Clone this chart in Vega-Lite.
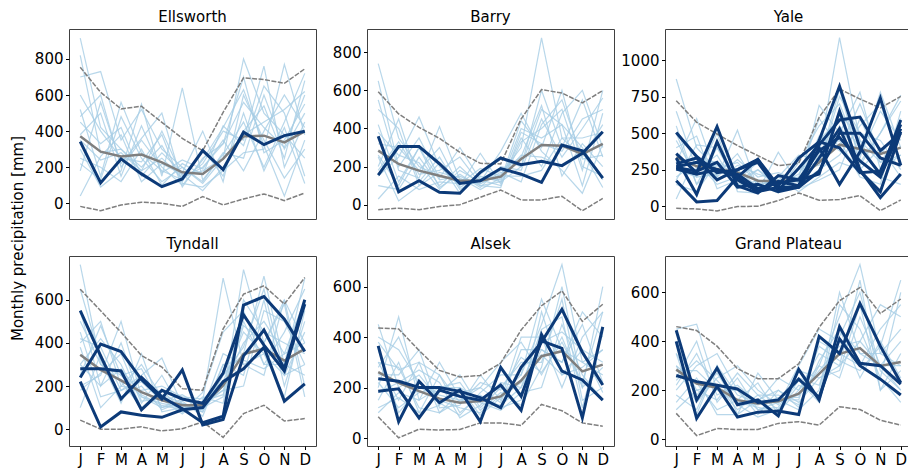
{
"$schema":"https://vega.github.io/schema/vega-lite/v6.json",
"padding":{"left":10,"top":9,"right":0,"bottom":0},
"title":{"text":"Monthly precipitation [mm]","orient":"left","anchor":"middle","offset":8,"fontSize":15,"fontWeight":"normal","color":"#000","font":"DejaVu Sans"},
"config":{"font":"DejaVu Sans","view":{"stroke":"#404040","strokeWidth":1},
"title":{"fontSize":15,"fontWeight":"normal","color":"#000","font":"DejaVu Sans"},
"axis":{"domain":false,"grid":false,"tickColor":"#000","tickSize":3.5,"labelFontSize":15,"labelColor":"#000","labelFont":"DejaVu Sans","labelPadding":2.5}},
"datasets":{"series":[
{"s":"Ee1","p":"Ellsworth","k":"ens"},{"s":"Ee2","p":"Ellsworth","k":"ens"},{"s":"Ee3","p":"Ellsworth","k":"ens"},{"s":"Ee4","p":"Ellsworth","k":"ens"},{"s":"Ee5","p":"Ellsworth","k":"ens"},{"s":"Ee6","p":"Ellsworth","k":"ens"},{"s":"Ee7","p":"Ellsworth","k":"ens"},{"s":"Ee8","p":"Ellsworth","k":"ens"},{"s":"Ee9","p":"Ellsworth","k":"ens"},{"s":"Ee10","p":"Ellsworth","k":"ens"},{"s":"Ee11","p":"Ellsworth","k":"ens"},{"s":"Ee12","p":"Ellsworth","k":"ens"},{"s":"Ee13","p":"Ellsworth","k":"ens"},{"s":"Ee14","p":"Ellsworth","k":"ens"},{"s":"Eu","p":"Ellsworth","k":"bnd"},{"s":"El","p":"Ellsworth","k":"bnd"},{"s":"Em","p":"Ellsworth","k":"mean"},{"s":"Eo1","p":"Ellsworth","k":"obs"},
{"s":"Be1","p":"Barry","k":"ens"},{"s":"Be2","p":"Barry","k":"ens"},{"s":"Be3","p":"Barry","k":"ens"},{"s":"Be4","p":"Barry","k":"ens"},{"s":"Be5","p":"Barry","k":"ens"},{"s":"Be6","p":"Barry","k":"ens"},{"s":"Be7","p":"Barry","k":"ens"},{"s":"Be8","p":"Barry","k":"ens"},{"s":"Be9","p":"Barry","k":"ens"},{"s":"Be10","p":"Barry","k":"ens"},{"s":"Be11","p":"Barry","k":"ens"},{"s":"Be12","p":"Barry","k":"ens"},{"s":"Be13","p":"Barry","k":"ens"},{"s":"Be14","p":"Barry","k":"ens"},{"s":"Bu","p":"Barry","k":"bnd"},{"s":"Bl","p":"Barry","k":"bnd"},{"s":"Bm","p":"Barry","k":"mean"},{"s":"Bo1","p":"Barry","k":"obs"},{"s":"Bo2","p":"Barry","k":"obs"},
{"s":"Ye1","p":"Yale","k":"ens"},{"s":"Ye2","p":"Yale","k":"ens"},{"s":"Ye3","p":"Yale","k":"ens"},{"s":"Ye4","p":"Yale","k":"ens"},{"s":"Ye5","p":"Yale","k":"ens"},{"s":"Ye6","p":"Yale","k":"ens"},{"s":"Ye7","p":"Yale","k":"ens"},{"s":"Ye8","p":"Yale","k":"ens"},{"s":"Ye9","p":"Yale","k":"ens"},{"s":"Ye10","p":"Yale","k":"ens"},{"s":"Ye11","p":"Yale","k":"ens"},{"s":"Ye12","p":"Yale","k":"ens"},{"s":"Ye13","p":"Yale","k":"ens"},{"s":"Ye14","p":"Yale","k":"ens"},{"s":"Yu","p":"Yale","k":"bnd"},{"s":"Yl","p":"Yale","k":"bnd"},{"s":"Ym","p":"Yale","k":"mean"},{"s":"Yo1","p":"Yale","k":"obs"},{"s":"Yo2","p":"Yale","k":"obs"},{"s":"Yo3","p":"Yale","k":"obs"},{"s":"Yo4","p":"Yale","k":"obs"},{"s":"Yo5","p":"Yale","k":"obs"},{"s":"Yo6","p":"Yale","k":"obs"},{"s":"Yo7","p":"Yale","k":"obs"},{"s":"Yo8","p":"Yale","k":"obs"},
{"s":"Te1","p":"Tyndall","k":"ens"},{"s":"Te2","p":"Tyndall","k":"ens"},{"s":"Te3","p":"Tyndall","k":"ens"},{"s":"Te4","p":"Tyndall","k":"ens"},{"s":"Te5","p":"Tyndall","k":"ens"},{"s":"Te6","p":"Tyndall","k":"ens"},{"s":"Te7","p":"Tyndall","k":"ens"},{"s":"Te8","p":"Tyndall","k":"ens"},{"s":"Te9","p":"Tyndall","k":"ens"},{"s":"Te10","p":"Tyndall","k":"ens"},{"s":"Te11","p":"Tyndall","k":"ens"},{"s":"Te12","p":"Tyndall","k":"ens"},{"s":"Te13","p":"Tyndall","k":"ens"},{"s":"Te14","p":"Tyndall","k":"ens"},{"s":"Tu","p":"Tyndall","k":"bnd"},{"s":"Tl","p":"Tyndall","k":"bnd"},{"s":"Tm","p":"Tyndall","k":"mean"},{"s":"To1","p":"Tyndall","k":"obs"},{"s":"To2","p":"Tyndall","k":"obs"},{"s":"To3","p":"Tyndall","k":"obs"},{"s":"To4","p":"Tyndall","k":"obs"},
{"s":"Ae1","p":"Alsek","k":"ens"},{"s":"Ae2","p":"Alsek","k":"ens"},{"s":"Ae3","p":"Alsek","k":"ens"},{"s":"Ae4","p":"Alsek","k":"ens"},{"s":"Ae5","p":"Alsek","k":"ens"},{"s":"Ae6","p":"Alsek","k":"ens"},{"s":"Ae7","p":"Alsek","k":"ens"},{"s":"Ae8","p":"Alsek","k":"ens"},{"s":"Ae9","p":"Alsek","k":"ens"},{"s":"Ae10","p":"Alsek","k":"ens"},{"s":"Ae11","p":"Alsek","k":"ens"},{"s":"Ae12","p":"Alsek","k":"ens"},{"s":"Ae13","p":"Alsek","k":"ens"},{"s":"Ae14","p":"Alsek","k":"ens"},{"s":"Au","p":"Alsek","k":"bnd"},{"s":"Al","p":"Alsek","k":"bnd"},{"s":"Am","p":"Alsek","k":"mean"},{"s":"Ao1","p":"Alsek","k":"obs"},{"s":"Ao2","p":"Alsek","k":"obs"},{"s":"Ao3","p":"Alsek","k":"obs"},
{"s":"Ge1","p":"Grand Plateau","k":"ens"},{"s":"Ge2","p":"Grand Plateau","k":"ens"},{"s":"Ge3","p":"Grand Plateau","k":"ens"},{"s":"Ge4","p":"Grand Plateau","k":"ens"},{"s":"Ge5","p":"Grand Plateau","k":"ens"},{"s":"Ge6","p":"Grand Plateau","k":"ens"},{"s":"Ge7","p":"Grand Plateau","k":"ens"},{"s":"Ge8","p":"Grand Plateau","k":"ens"},{"s":"Ge9","p":"Grand Plateau","k":"ens"},{"s":"Ge10","p":"Grand Plateau","k":"ens"},{"s":"Ge11","p":"Grand Plateau","k":"ens"},{"s":"Ge12","p":"Grand Plateau","k":"ens"},{"s":"Ge13","p":"Grand Plateau","k":"ens"},{"s":"Ge14","p":"Grand Plateau","k":"ens"},{"s":"Gu","p":"Grand Plateau","k":"bnd"},{"s":"Gl","p":"Grand Plateau","k":"bnd"},{"s":"Gm","p":"Grand Plateau","k":"mean"},{"s":"Go1","p":"Grand Plateau","k":"obs"},{"s":"Go2","p":"Grand Plateau","k":"obs"},{"s":"Go3","p":"Grand Plateau","k":"obs"}
]},
"data":{"values":[
{"s":"Ee1","m":1,"v":916},{"s":"Ee1","m":2,"v":420},{"s":"Ee1","m":3,"v":300},{"s":"Ee1","m":4,"v":180},{"s":"Ee1","m":5,"v":250},{"s":"Ee1","m":6,"v":140},{"s":"Ee1","m":7,"v":200},{"s":"Ee1","m":8,"v":330},{"s":"Ee1","m":9,"v":560},{"s":"Ee1","m":10,"v":420},{"s":"Ee1","m":11,"v":310},{"s":"Ee1","m":12,"v":600},
{"s":"Ee2","m":1,"v":700},{"s":"Ee2","m":2,"v":730},{"s":"Ee2","m":3,"v":350},{"s":"Ee2","m":4,"v":520},{"s":"Ee2","m":5,"v":300},{"s":"Ee2","m":6,"v":200},{"s":"Ee2","m":7,"v":110},{"s":"Ee2","m":8,"v":250},{"s":"Ee2","m":9,"v":800},{"s":"Ee2","m":10,"v":500},{"s":"Ee2","m":11,"v":380},{"s":"Ee2","m":12,"v":250},
{"s":"Ee3","m":1,"v":520},{"s":"Ee3","m":2,"v":150},{"s":"Ee3","m":3,"v":560},{"s":"Ee3","m":4,"v":280},{"s":"Ee3","m":5,"v":180},{"s":"Ee3","m":6,"v":130},{"s":"Ee3","m":7,"v":220},{"s":"Ee3","m":8,"v":400},{"s":"Ee3","m":9,"v":350},{"s":"Ee3","m":10,"v":760},{"s":"Ee3","m":11,"v":200},{"s":"Ee3","m":12,"v":450},
{"s":"Ee4","m":1,"v":180},{"s":"Ee4","m":2,"v":560},{"s":"Ee4","m":3,"v":220},{"s":"Ee4","m":4,"v":360},{"s":"Ee4","m":5,"v":500},{"s":"Ee4","m":6,"v":110},{"s":"Ee4","m":7,"v":90},{"s":"Ee4","m":8,"v":180},{"s":"Ee4","m":9,"v":280},{"s":"Ee4","m":10,"v":300},{"s":"Ee4","m":11,"v":770},{"s":"Ee4","m":12,"v":380},
{"s":"Ee5","m":1,"v":300},{"s":"Ee5","m":2,"v":90},{"s":"Ee5","m":3,"v":180},{"s":"Ee5","m":4,"v":550},{"s":"Ee5","m":5,"v":150},{"s":"Ee5","m":6,"v":640},{"s":"Ee5","m":7,"v":130},{"s":"Ee5","m":8,"v":270},{"s":"Ee5","m":9,"v":450},{"s":"Ee5","m":10,"v":200},{"s":"Ee5","m":11,"v":450},{"s":"Ee5","m":12,"v":720},
{"s":"Ee6","m":1,"v":450},{"s":"Ee6","m":2,"v":330},{"s":"Ee6","m":3,"v":420},{"s":"Ee6","m":4,"v":150},{"s":"Ee6","m":5,"v":280},{"s":"Ee6","m":6,"v":170},{"s":"Ee6","m":7,"v":400},{"s":"Ee6","m":8,"v":120},{"s":"Ee6","m":9,"v":600},{"s":"Ee6","m":10,"v":350},{"s":"Ee6","m":11,"v":140},{"s":"Ee6","m":12,"v":300},
{"s":"Ee7","m":1,"v":250},{"s":"Ee7","m":2,"v":200},{"s":"Ee7","m":3,"v":120},{"s":"Ee7","m":4,"v":300},{"s":"Ee7","m":5,"v":100},{"s":"Ee7","m":6,"v":220},{"s":"Ee7","m":7,"v":160},{"s":"Ee7","m":8,"v":430},{"s":"Ee7","m":9,"v":320},{"s":"Ee7","m":10,"v":650},{"s":"Ee7","m":11,"v":500},{"s":"Ee7","m":12,"v":150},
{"s":"Ee8","m":1,"v":600},{"s":"Ee8","m":2,"v":400},{"s":"Ee8","m":3,"v":250},{"s":"Ee8","m":4,"v":230},{"s":"Ee8","m":5,"v":380},{"s":"Ee8","m":6,"v":90},{"s":"Ee8","m":7,"v":250},{"s":"Ee8","m":8,"v":330},{"s":"Ee8","m":9,"v":700},{"s":"Ee8","m":10,"v":280},{"s":"Ee8","m":11,"v":350},{"s":"Ee8","m":12,"v":550},
{"s":"Ee9","m":1,"v":40},{"s":"Ee9","m":2,"v":260},{"s":"Ee9","m":3,"v":380},{"s":"Ee9","m":4,"v":120},{"s":"Ee9","m":5,"v":220},{"s":"Ee9","m":6,"v":160},{"s":"Ee9","m":7,"v":70},{"s":"Ee9","m":8,"v":200},{"s":"Ee9","m":9,"v":400},{"s":"Ee9","m":10,"v":540},{"s":"Ee9","m":11,"v":250},{"s":"Ee9","m":12,"v":680},
{"s":"Ee10","m":1,"v":380},{"s":"Ee10","m":2,"v":500},{"s":"Ee10","m":3,"v":150},{"s":"Ee10","m":4,"v":430},{"s":"Ee10","m":5,"v":170},{"s":"Ee10","m":6,"v":240},{"s":"Ee10","m":7,"v":190},{"s":"Ee10","m":8,"v":350},{"s":"Ee10","m":9,"v":180},{"s":"Ee10","m":10,"v":400},{"s":"Ee10","m":11,"v":600},{"s":"Ee10","m":12,"v":420},
{"s":"Ee11","m":1,"v":820},{"s":"Ee11","m":2,"v":280},{"s":"Ee11","m":3,"v":300},{"s":"Ee11","m":4,"v":200},{"s":"Ee11","m":5,"v":320},{"s":"Ee11","m":6,"v":120},{"s":"Ee11","m":7,"v":300},{"s":"Ee11","m":8,"v":150},{"s":"Ee11","m":9,"v":500},{"s":"Ee11","m":10,"v":180},{"s":"Ee11","m":11,"v":420},{"s":"Ee11","m":12,"v":110},
{"s":"Ee12","m":1,"v":220},{"s":"Ee12","m":2,"v":130},{"s":"Ee12","m":3,"v":480},{"s":"Ee12","m":4,"v":250},{"s":"Ee12","m":5,"v":120},{"s":"Ee12","m":6,"v":200},{"s":"Ee12","m":7,"v":120},{"s":"Ee12","m":8,"v":280},{"s":"Ee12","m":9,"v":250},{"s":"Ee12","m":10,"v":600},{"s":"Ee12","m":11,"v":300},{"s":"Ee12","m":12,"v":500},
{"s":"Ee13","m":1,"v":480},{"s":"Ee13","m":2,"v":600},{"s":"Ee13","m":3,"v":200},{"s":"Ee13","m":4,"v":350},{"s":"Ee13","m":5,"v":200},{"s":"Ee13","m":6,"v":100},{"s":"Ee13","m":7,"v":240},{"s":"Ee13","m":8,"v":420},{"s":"Ee13","m":9,"v":630},{"s":"Ee13","m":10,"v":320},{"s":"Ee13","m":11,"v":40},{"s":"Ee13","m":12,"v":350},
{"s":"Ee14","m":1,"v":350},{"s":"Ee14","m":2,"v":240},{"s":"Ee14","m":3,"v":280},{"s":"Ee14","m":4,"v":180},{"s":"Ee14","m":5,"v":400},{"s":"Ee14","m":6,"v":150},{"s":"Ee14","m":7,"v":180},{"s":"Ee14","m":8,"v":250},{"s":"Ee14","m":9,"v":380},{"s":"Ee14","m":10,"v":450},{"s":"Ee14","m":11,"v":520},{"s":"Ee14","m":12,"v":620},
{"s":"Eu","m":1,"v":754},{"s":"Eu","m":2,"v":615},{"s":"Eu","m":3,"v":523},{"s":"Eu","m":4,"v":538},{"s":"Eu","m":5,"v":449},{"s":"Eu","m":6,"v":360},{"s":"Eu","m":7,"v":292},{"s":"Eu","m":8,"v":504},{"s":"Eu","m":9,"v":695},{"s":"Eu","m":10,"v":686},{"s":"Eu","m":11,"v":665},{"s":"Eu","m":12,"v":745},
{"s":"El","m":1,"v":-17},{"s":"El","m":2,"v":-41},{"s":"El","m":3,"v":-9},{"s":"El","m":4,"v":6},{"s":"El","m":5,"v":0},{"s":"El","m":6,"v":-17},{"s":"El","m":7,"v":37},{"s":"El","m":8,"v":-9},{"s":"El","m":9,"v":24},{"s":"El","m":10,"v":52},{"s":"El","m":11,"v":15},{"s":"El","m":12,"v":57},
{"s":"Em","m":1,"v":371},{"s":"Em","m":2,"v":286},{"s":"Em","m":3,"v":259},{"s":"Em","m":4,"v":270},{"s":"Em","m":5,"v":227},{"s":"Em","m":6,"v":172},{"s":"Em","m":7,"v":163},{"s":"Em","m":8,"v":246},{"s":"Em","m":9,"v":371},{"s":"Em","m":10,"v":375},{"s":"Em","m":11,"v":338},{"s":"Em","m":12,"v":399},
{"s":"Eo1","m":1,"v":342},{"s":"Eo1","m":2,"v":113},{"s":"Eo1","m":3,"v":246},{"s":"Eo1","m":4,"v":163},{"s":"Eo1","m":5,"v":92},{"s":"Eo1","m":6,"v":135},{"s":"Eo1","m":7,"v":292},{"s":"Eo1","m":8,"v":187},{"s":"Eo1","m":9,"v":394},{"s":"Eo1","m":10,"v":325},{"s":"Eo1","m":11,"v":375},{"s":"Eo1","m":12,"v":399},
{"s":"Be1","m":1,"v":740},{"s":"Be1","m":2,"v":350},{"s":"Be1","m":3,"v":200},{"s":"Be1","m":4,"v":150},{"s":"Be1","m":5,"v":120},{"s":"Be1","m":6,"v":110},{"s":"Be1","m":7,"v":160},{"s":"Be1","m":8,"v":300},{"s":"Be1","m":9,"v":875},{"s":"Be1","m":10,"v":350},{"s":"Be1","m":11,"v":250},{"s":"Be1","m":12,"v":420},
{"s":"Be2","m":1,"v":200},{"s":"Be2","m":2,"v":450},{"s":"Be2","m":3,"v":120},{"s":"Be2","m":4,"v":250},{"s":"Be2","m":5,"v":80},{"s":"Be2","m":6,"v":140},{"s":"Be2","m":7,"v":130},{"s":"Be2","m":8,"v":440},{"s":"Be2","m":9,"v":300},{"s":"Be2","m":10,"v":600},{"s":"Be2","m":11,"v":200},{"s":"Be2","m":12,"v":150},
{"s":"Be3","m":1,"v":420},{"s":"Be3","m":2,"v":120},{"s":"Be3","m":3,"v":300},{"s":"Be3","m":4,"v":90},{"s":"Be3","m":5,"v":160},{"s":"Be3","m":6,"v":90},{"s":"Be3","m":7,"v":200},{"s":"Be3","m":8,"v":180},{"s":"Be3","m":9,"v":450},{"s":"Be3","m":10,"v":250},{"s":"Be3","m":11,"v":400},{"s":"Be3","m":12,"v":560},
{"s":"Be4","m":1,"v":150},{"s":"Be4","m":2,"v":250},{"s":"Be4","m":3,"v":460},{"s":"Be4","m":4,"v":200},{"s":"Be4","m":5,"v":100},{"s":"Be4","m":6,"v":270},{"s":"Be4","m":7,"v":110},{"s":"Be4","m":8,"v":350},{"s":"Be4","m":9,"v":200},{"s":"Be4","m":10,"v":480},{"s":"Be4","m":11,"v":600},{"s":"Be4","m":12,"v":300},
{"s":"Be5","m":1,"v":550},{"s":"Be5","m":2,"v":180},{"s":"Be5","m":3,"v":140},{"s":"Be5","m":4,"v":410},{"s":"Be5","m":5,"v":130},{"s":"Be5","m":6,"v":120},{"s":"Be5","m":7,"v":180},{"s":"Be5","m":8,"v":250},{"s":"Be5","m":9,"v":520},{"s":"Be5","m":10,"v":150},{"s":"Be5","m":11,"v":320},{"s":"Be5","m":12,"v":200},
{"s":"Be6","m":1,"v":100},{"s":"Be6","m":2,"v":80},{"s":"Be6","m":3,"v":250},{"s":"Be6","m":4,"v":100},{"s":"Be6","m":5,"v":200},{"s":"Be6","m":6,"v":100},{"s":"Be6","m":7,"v":120},{"s":"Be6","m":8,"v":400},{"s":"Be6","m":9,"v":350},{"s":"Be6","m":10,"v":420},{"s":"Be6","m":11,"v":100},{"s":"Be6","m":12,"v":480},
{"s":"Be7","m":1,"v":320},{"s":"Be7","m":2,"v":300},{"s":"Be7","m":3,"v":180},{"s":"Be7","m":4,"v":300},{"s":"Be7","m":5,"v":90},{"s":"Be7","m":6,"v":160},{"s":"Be7","m":7,"v":240},{"s":"Be7","m":8,"v":200},{"s":"Be7","m":9,"v":600},{"s":"Be7","m":10,"v":300},{"s":"Be7","m":11,"v":550},{"s":"Be7","m":12,"v":250},
{"s":"Be8","m":1,"v":250},{"s":"Be8","m":2,"v":20},{"s":"Be8","m":3,"v":100},{"s":"Be8","m":4,"v":170},{"s":"Be8","m":5,"v":140},{"s":"Be8","m":6,"v":80},{"s":"Be8","m":7,"v":140},{"s":"Be8","m":8,"v":260},{"s":"Be8","m":9,"v":250},{"s":"Be8","m":10,"v":200},{"s":"Be8","m":11,"v":280},{"s":"Be8","m":12,"v":90},
{"s":"Be9","m":1,"v":650},{"s":"Be9","m":2,"v":200},{"s":"Be9","m":3,"v":350},{"s":"Be9","m":4,"v":140},{"s":"Be9","m":5,"v":300},{"s":"Be9","m":6,"v":130},{"s":"Be9","m":7,"v":100},{"s":"Be9","m":8,"v":330},{"s":"Be9","m":9,"v":400},{"s":"Be9","m":10,"v":500},{"s":"Be9","m":11,"v":180},{"s":"Be9","m":12,"v":600},
{"s":"Be10","m":1,"v":30},{"s":"Be10","m":2,"v":150},{"s":"Be10","m":3,"v":80},{"s":"Be10","m":4,"v":120},{"s":"Be10","m":5,"v":110},{"s":"Be10","m":6,"v":190},{"s":"Be10","m":7,"v":150},{"s":"Be10","m":8,"v":150},{"s":"Be10","m":9,"v":180},{"s":"Be10","m":10,"v":350},{"s":"Be10","m":11,"v":350},{"s":"Be10","m":12,"v":380},
{"s":"Be11","m":1,"v":380},{"s":"Be11","m":2,"v":260},{"s":"Be11","m":3,"v":220},{"s":"Be11","m":4,"v":80},{"s":"Be11","m":5,"v":180},{"s":"Be11","m":6,"v":120},{"s":"Be11","m":7,"v":280},{"s":"Be11","m":8,"v":480},{"s":"Be11","m":9,"v":280},{"s":"Be11","m":10,"v":180},{"s":"Be11","m":11,"v":60},{"s":"Be11","m":12,"v":320},
{"s":"Be12","m":1,"v":500},{"s":"Be12","m":2,"v":400},{"s":"Be12","m":3,"v":100},{"s":"Be12","m":4,"v":220},{"s":"Be12","m":5,"v":60},{"s":"Be12","m":6,"v":150},{"s":"Be12","m":7,"v":120},{"s":"Be12","m":8,"v":200},{"s":"Be12","m":9,"v":500},{"s":"Be12","m":10,"v":420},{"s":"Be12","m":11,"v":300},{"s":"Be12","m":12,"v":130},
{"s":"Be13","m":1,"v":260},{"s":"Be13","m":2,"v":100},{"s":"Be13","m":3,"v":300},{"s":"Be13","m":4,"v":130},{"s":"Be13","m":5,"v":150},{"s":"Be13","m":6,"v":100},{"s":"Be13","m":7,"v":90},{"s":"Be13","m":8,"v":380},{"s":"Be13","m":9,"v":320},{"s":"Be13","m":10,"v":280},{"s":"Be13","m":11,"v":450},{"s":"Be13","m":12,"v":500},
{"s":"Be14","m":1,"v":180},{"s":"Be14","m":2,"v":330},{"s":"Be14","m":3,"v":160},{"s":"Be14","m":4,"v":180},{"s":"Be14","m":5,"v":250},{"s":"Be14","m":6,"v":110},{"s":"Be14","m":7,"v":170},{"s":"Be14","m":8,"v":120},{"s":"Be14","m":9,"v":420},{"s":"Be14","m":10,"v":550},{"s":"Be14","m":11,"v":240},{"s":"Be14","m":12,"v":260},
{"s":"Bu","m":1,"v":593},{"s":"Bu","m":2,"v":476},{"s":"Bu","m":3,"v":406},{"s":"Bu","m":4,"v":348},{"s":"Bu","m":5,"v":275},{"s":"Bu","m":6,"v":217},{"s":"Bu","m":7,"v":214},{"s":"Bu","m":8,"v":450},{"s":"Bu","m":9,"v":604},{"s":"Bu","m":10,"v":586},{"s":"Bu","m":11,"v":534},{"s":"Bu","m":12,"v":599},
{"s":"Bl","m":1,"v":-26},{"s":"Bl","m":2,"v":-18},{"s":"Bl","m":3,"v":-26},{"s":"Bl","m":4,"v":-9},{"s":"Bl","m":5,"v":0},{"s":"Bl","m":6,"v":39},{"s":"Bl","m":7,"v":77},{"s":"Bl","m":8,"v":25},{"s":"Bl","m":9,"v":25},{"s":"Bl","m":10,"v":44},{"s":"Bl","m":11,"v":-32},{"s":"Bl","m":12,"v":33},
{"s":"Bm","m":1,"v":284},{"s":"Bm","m":2,"v":214},{"s":"Bm","m":3,"v":179},{"s":"Bm","m":4,"v":152},{"s":"Bm","m":5,"v":126},{"s":"Bm","m":6,"v":126},{"s":"Bm","m":7,"v":147},{"s":"Bm","m":8,"v":240},{"s":"Bm","m":9,"v":313},{"s":"Bm","m":10,"v":310},{"s":"Bm","m":11,"v":266},{"s":"Bm","m":12,"v":319},
{"s":"Bo1","m":1,"v":155},{"s":"Bo1","m":2,"v":305},{"s":"Bo1","m":3,"v":305},{"s":"Bo1","m":4,"v":215},{"s":"Bo1","m":5,"v":112},{"s":"Bo1","m":6,"v":126},{"s":"Bo1","m":7,"v":190},{"s":"Bo1","m":8,"v":160},{"s":"Bo1","m":9,"v":117},{"s":"Bo1","m":10,"v":313},{"s":"Bo1","m":11,"v":283},{"s":"Bo1","m":12,"v":140},
{"s":"Bo2","m":1,"v":359},{"s":"Bo2","m":2,"v":68},{"s":"Bo2","m":3,"v":126},{"s":"Bo2","m":4,"v":65},{"s":"Bo2","m":5,"v":60},{"s":"Bo2","m":6,"v":170},{"s":"Bo2","m":7,"v":245},{"s":"Bo2","m":8,"v":210},{"s":"Bo2","m":9,"v":228},{"s":"Bo2","m":10,"v":205},{"s":"Bo2","m":11,"v":270},{"s":"Bo2","m":12,"v":383},
{"s":"Ye1","m":1,"v":870},{"s":"Ye1","m":2,"v":400},{"s":"Ye1","m":3,"v":250},{"s":"Ye1","m":4,"v":300},{"s":"Ye1","m":5,"v":160},{"s":"Ye1","m":6,"v":150},{"s":"Ye1","m":7,"v":200},{"s":"Ye1","m":8,"v":350},{"s":"Ye1","m":9,"v":1153},{"s":"Ye1","m":10,"v":450},{"s":"Ye1","m":11,"v":300},{"s":"Ye1","m":12,"v":500},
{"s":"Ye2","m":1,"v":300},{"s":"Ye2","m":2,"v":600},{"s":"Ye2","m":3,"v":200},{"s":"Ye2","m":4,"v":520},{"s":"Ye2","m":5,"v":120},{"s":"Ye2","m":6,"v":180},{"s":"Ye2","m":7,"v":140},{"s":"Ye2","m":8,"v":690},{"s":"Ye2","m":9,"v":500},{"s":"Ye2","m":10,"v":780},{"s":"Ye2","m":11,"v":250},{"s":"Ye2","m":12,"v":350},
{"s":"Ye3","m":1,"v":500},{"s":"Ye3","m":2,"v":150},{"s":"Ye3","m":3,"v":400},{"s":"Ye3","m":4,"v":150},{"s":"Ye3","m":5,"v":250},{"s":"Ye3","m":6,"v":120},{"s":"Ye3","m":7,"v":260},{"s":"Ye3","m":8,"v":300},{"s":"Ye3","m":9,"v":800},{"s":"Ye3","m":10,"v":300},{"s":"Ye3","m":11,"v":500},{"s":"Ye3","m":12,"v":760},
{"s":"Ye4","m":1,"v":200},{"s":"Ye4","m":2,"v":300},{"s":"Ye4","m":3,"v":150},{"s":"Ye4","m":4,"v":200},{"s":"Ye4","m":5,"v":100},{"s":"Ye4","m":6,"v":370},{"s":"Ye4","m":7,"v":150},{"s":"Ye4","m":8,"v":250},{"s":"Ye4","m":9,"v":350},{"s":"Ye4","m":10,"v":550},{"s":"Ye4","m":11,"v":700},{"s":"Ye4","m":12,"v":300},
{"s":"Ye5","m":1,"v":650},{"s":"Ye5","m":2,"v":250},{"s":"Ye5","m":3,"v":350},{"s":"Ye5","m":4,"v":120},{"s":"Ye5","m":5,"v":180},{"s":"Ye5","m":6,"v":140},{"s":"Ye5","m":7,"v":220},{"s":"Ye5","m":8,"v":450},{"s":"Ye5","m":9,"v":600},{"s":"Ye5","m":10,"v":400},{"s":"Ye5","m":11,"v":200},{"s":"Ye5","m":12,"v":600},
{"s":"Ye6","m":1,"v":150},{"s":"Ye6","m":2,"v":100},{"s":"Ye6","m":3,"v":300},{"s":"Ye6","m":4,"v":250},{"s":"Ye6","m":5,"v":130},{"s":"Ye6","m":6,"v":200},{"s":"Ye6","m":7,"v":100},{"s":"Ye6","m":8,"v":200},{"s":"Ye6","m":9,"v":300},{"s":"Ye6","m":10,"v":250},{"s":"Ye6","m":11,"v":400},{"s":"Ye6","m":12,"v":200},
{"s":"Ye7","m":1,"v":400},{"s":"Ye7","m":2,"v":480},{"s":"Ye7","m":3,"v":120},{"s":"Ye7","m":4,"v":180},{"s":"Ye7","m":5,"v":300},{"s":"Ye7","m":6,"v":100},{"s":"Ye7","m":7,"v":300},{"s":"Ye7","m":8,"v":550},{"s":"Ye7","m":9,"v":700},{"s":"Ye7","m":10,"v":350},{"s":"Ye7","m":11,"v":650},{"s":"Ye7","m":12,"v":450},
{"s":"Ye8","m":1,"v":250},{"s":"Ye8","m":2,"v":200},{"s":"Ye8","m":3,"v":500},{"s":"Ye8","m":4,"v":100},{"s":"Ye8","m":5,"v":90},{"s":"Ye8","m":6,"v":160},{"s":"Ye8","m":7,"v":120},{"s":"Ye8","m":8,"v":180},{"s":"Ye8","m":9,"v":250},{"s":"Ye8","m":10,"v":600},{"s":"Ye8","m":11,"v":300},{"s":"Ye8","m":12,"v":350},
{"s":"Ye9","m":1,"v":50},{"s":"Ye9","m":2,"v":350},{"s":"Ye9","m":3,"v":200},{"s":"Ye9","m":4,"v":320},{"s":"Ye9","m":5,"v":200},{"s":"Ye9","m":6,"v":230},{"s":"Ye9","m":7,"v":180},{"s":"Ye9","m":8,"v":380},{"s":"Ye9","m":9,"v":450},{"s":"Ye9","m":10,"v":200},{"s":"Ye9","m":11,"v":150},{"s":"Ye9","m":12,"v":650},
{"s":"Ye10","m":1,"v":550},{"s":"Ye10","m":2,"v":150},{"s":"Ye10","m":3,"v":280},{"s":"Ye10","m":4,"v":150},{"s":"Ye10","m":5,"v":150},{"s":"Ye10","m":6,"v":90},{"s":"Ye10","m":7,"v":250},{"s":"Ye10","m":8,"v":280},{"s":"Ye10","m":9,"v":750},{"s":"Ye10","m":10,"v":500},{"s":"Ye10","m":11,"v":450},{"s":"Ye10","m":12,"v":250},
{"s":"Ye11","m":1,"v":320},{"s":"Ye11","m":2,"v":280},{"s":"Ye11","m":3,"v":180},{"s":"Ye11","m":4,"v":280},{"s":"Ye11","m":5,"v":220},{"s":"Ye11","m":6,"v":180},{"s":"Ye11","m":7,"v":200},{"s":"Ye11","m":8,"v":600},{"s":"Ye11","m":9,"v":400},{"s":"Ye11","m":10,"v":700},{"s":"Ye11","m":11,"v":350},{"s":"Ye11","m":12,"v":550},
{"s":"Ye12","m":1,"v":180},{"s":"Ye12","m":2,"v":420},{"s":"Ye12","m":3,"v":400},{"s":"Ye12","m":4,"v":200},{"s":"Ye12","m":5,"v":110},{"s":"Ye12","m":6,"v":130},{"s":"Ye12","m":7,"v":140},{"s":"Ye12","m":8,"v":220},{"s":"Ye12","m":9,"v":550},{"s":"Ye12","m":10,"v":330},{"s":"Ye12","m":11,"v":780},{"s":"Ye12","m":12,"v":400},
{"s":"Ye13","m":1,"v":450},{"s":"Ye13","m":2,"v":200},{"s":"Ye13","m":3,"v":220},{"s":"Ye13","m":4,"v":360},{"s":"Ye13","m":5,"v":140},{"s":"Ye13","m":6,"v":200},{"s":"Ye13","m":7,"v":350},{"s":"Ye13","m":8,"v":320},{"s":"Ye13","m":9,"v":650},{"s":"Ye13","m":10,"v":450},{"s":"Ye13","m":11,"v":200},{"s":"Ye13","m":12,"v":150},
{"s":"Ye14","m":1,"v":280},{"s":"Ye14","m":2,"v":330},{"s":"Ye14","m":3,"v":300},{"s":"Ye14","m":4,"v":180},{"s":"Ye14","m":5,"v":250},{"s":"Ye14","m":6,"v":150},{"s":"Ye14","m":7,"v":170},{"s":"Ye14","m":8,"v":480},{"s":"Ye14","m":9,"v":380},{"s":"Ye14","m":10,"v":280},{"s":"Ye14","m":11,"v":500},{"s":"Ye14","m":12,"v":720},
{"s":"Yu","m":1,"v":722},{"s":"Yu","m":2,"v":574},{"s":"Yu","m":3,"v":494},{"s":"Yu","m":4,"v":415},{"s":"Yu","m":5,"v":346},{"s":"Yu","m":6,"v":278},{"s":"Yu","m":7,"v":294},{"s":"Yu","m":8,"v":608},{"s":"Yu","m":9,"v":802},{"s":"Yu","m":10,"v":733},{"s":"Yu","m":11,"v":672},{"s":"Yu","m":12,"v":752},
{"s":"Yl","m":1,"v":-14},{"s":"Yl","m":2,"v":-18},{"s":"Yl","m":3,"v":-32},{"s":"Yl","m":4,"v":-2},{"s":"Yl","m":5,"v":0},{"s":"Yl","m":6,"v":39},{"s":"Yl","m":7,"v":91},{"s":"Yl","m":8,"v":41},{"s":"Yl","m":9,"v":46},{"s":"Yl","m":10,"v":73},{"s":"Yl","m":11,"v":-30},{"s":"Yl","m":12,"v":43},
{"s":"Ym","m":1,"v":335},{"s":"Ym","m":2,"v":273},{"s":"Ym","m":3,"v":255},{"s":"Ym","m":4,"v":232},{"s":"Ym","m":5,"v":175},{"s":"Ym","m":6,"v":169},{"s":"Ym","m":7,"v":187},{"s":"Ym","m":8,"v":301},{"s":"Ym","m":9,"v":421},{"s":"Ym","m":10,"v":392},{"s":"Ym","m":11,"v":358},{"s":"Ym","m":12,"v":401},
{"s":"Yo1","m":1,"v":505},{"s":"Yo1","m":2,"v":340},{"s":"Yo1","m":3,"v":230},{"s":"Yo1","m":4,"v":250},{"s":"Yo1","m":5,"v":320},{"s":"Yo1","m":6,"v":110},{"s":"Yo1","m":7,"v":140},{"s":"Yo1","m":8,"v":450},{"s":"Yo1","m":9,"v":820},{"s":"Yo1","m":10,"v":400},{"s":"Yo1","m":11,"v":220},{"s":"Yo1","m":12,"v":590},
{"s":"Yo2","m":1,"v":360},{"s":"Yo2","m":2,"v":230},{"s":"Yo2","m":3,"v":545},{"s":"Yo2","m":4,"v":180},{"s":"Yo2","m":5,"v":100},{"s":"Yo2","m":6,"v":170},{"s":"Yo2","m":7,"v":140},{"s":"Yo2","m":8,"v":400},{"s":"Yo2","m":9,"v":150},{"s":"Yo2","m":10,"v":370},{"s":"Yo2","m":11,"v":740},{"s":"Yo2","m":12,"v":280},
{"s":"Yo3","m":1,"v":330},{"s":"Yo3","m":2,"v":80},{"s":"Yo3","m":3,"v":440},{"s":"Yo3","m":4,"v":140},{"s":"Yo3","m":5,"v":90},{"s":"Yo3","m":6,"v":210},{"s":"Yo3","m":7,"v":180},{"s":"Yo3","m":8,"v":220},{"s":"Yo3","m":9,"v":650},{"s":"Yo3","m":10,"v":250},{"s":"Yo3","m":11,"v":60},{"s":"Yo3","m":12,"v":220},
{"s":"Yo4","m":1,"v":290},{"s":"Yo4","m":2,"v":330},{"s":"Yo4","m":3,"v":180},{"s":"Yo4","m":4,"v":250},{"s":"Yo4","m":5,"v":300},{"s":"Yo4","m":6,"v":110},{"s":"Yo4","m":7,"v":260},{"s":"Yo4","m":8,"v":420},{"s":"Yo4","m":9,"v":590},{"s":"Yo4","m":10,"v":610},{"s":"Yo4","m":11,"v":380},{"s":"Yo4","m":12,"v":500},
{"s":"Yo5","m":1,"v":265},{"s":"Yo5","m":2,"v":240},{"s":"Yo5","m":3,"v":300},{"s":"Yo5","m":4,"v":130},{"s":"Yo5","m":5,"v":150},{"s":"Yo5","m":6,"v":100},{"s":"Yo5","m":7,"v":130},{"s":"Yo5","m":8,"v":330},{"s":"Yo5","m":9,"v":530},{"s":"Yo5","m":10,"v":240},{"s":"Yo5","m":11,"v":100},{"s":"Yo5","m":12,"v":510},
{"s":"Yo6","m":1,"v":255},{"s":"Yo6","m":2,"v":220},{"s":"Yo6","m":3,"v":250},{"s":"Yo6","m":4,"v":220},{"s":"Yo6","m":5,"v":120},{"s":"Yo6","m":6,"v":160},{"s":"Yo6","m":7,"v":180},{"s":"Yo6","m":8,"v":380},{"s":"Yo6","m":9,"v":470},{"s":"Yo6","m":10,"v":310},{"s":"Yo6","m":11,"v":200},{"s":"Yo6","m":12,"v":530},
{"s":"Yo7","m":1,"v":175},{"s":"Yo7","m":2,"v":30},{"s":"Yo7","m":3,"v":40},{"s":"Yo7","m":4,"v":200},{"s":"Yo7","m":5,"v":100},{"s":"Yo7","m":6,"v":130},{"s":"Yo7","m":7,"v":130},{"s":"Yo7","m":8,"v":240},{"s":"Yo7","m":9,"v":500},{"s":"Yo7","m":10,"v":500},{"s":"Yo7","m":11,"v":330},{"s":"Yo7","m":12,"v":280},
{"s":"Yo8","m":1,"v":270},{"s":"Yo8","m":2,"v":300},{"s":"Yo8","m":3,"v":250},{"s":"Yo8","m":4,"v":200},{"s":"Yo8","m":5,"v":320},{"s":"Yo8","m":6,"v":140},{"s":"Yo8","m":7,"v":330},{"s":"Yo8","m":8,"v":440},{"s":"Yo8","m":9,"v":400},{"s":"Yo8","m":10,"v":230},{"s":"Yo8","m":11,"v":240},{"s":"Yo8","m":12,"v":560},
{"s":"Te1","m":1,"v":763},{"s":"Te1","m":2,"v":300},{"s":"Te1","m":3,"v":250},{"s":"Te1","m":4,"v":150},{"s":"Te1","m":5,"v":120},{"s":"Te1","m":6,"v":100},{"s":"Te1","m":7,"v":90},{"s":"Te1","m":8,"v":200},{"s":"Te1","m":9,"v":400},{"s":"Te1","m":10,"v":500},{"s":"Te1","m":11,"v":350},{"s":"Te1","m":12,"v":600},
{"s":"Te2","m":1,"v":400},{"s":"Te2","m":2,"v":500},{"s":"Te2","m":3,"v":200},{"s":"Te2","m":4,"v":300},{"s":"Te2","m":5,"v":150},{"s":"Te2","m":6,"v":80},{"s":"Te2","m":7,"v":130},{"s":"Te2","m":8,"v":700},{"s":"Te2","m":9,"v":300},{"s":"Te2","m":10,"v":350},{"s":"Te2","m":11,"v":250},{"s":"Te2","m":12,"v":300},
{"s":"Te3","m":1,"v":200},{"s":"Te3","m":2,"v":250},{"s":"Te3","m":3,"v":500},{"s":"Te3","m":4,"v":150},{"s":"Te3","m":5,"v":100},{"s":"Te3","m":6,"v":140},{"s":"Te3","m":7,"v":100},{"s":"Te3","m":8,"v":150},{"s":"Te3","m":9,"v":740},{"s":"Te3","m":10,"v":400},{"s":"Te3","m":11,"v":600},{"s":"Te3","m":12,"v":400},
{"s":"Te4","m":1,"v":450},{"s":"Te4","m":2,"v":150},{"s":"Te4","m":3,"v":180},{"s":"Te4","m":4,"v":250},{"s":"Te4","m":5,"v":330},{"s":"Te4","m":6,"v":110},{"s":"Te4","m":7,"v":80},{"s":"Te4","m":8,"v":250},{"s":"Te4","m":9,"v":350},{"s":"Te4","m":10,"v":710},{"s":"Te4","m":11,"v":300},{"s":"Te4","m":12,"v":250},
{"s":"Te5","m":1,"v":300},{"s":"Te5","m":2,"v":420},{"s":"Te5","m":3,"v":300},{"s":"Te5","m":4,"v":100},{"s":"Te5","m":5,"v":180},{"s":"Te5","m":6,"v":90},{"s":"Te5","m":7,"v":120},{"s":"Te5","m":8,"v":180},{"s":"Te5","m":9,"v":500},{"s":"Te5","m":10,"v":300},{"s":"Te5","m":11,"v":450},{"s":"Te5","m":12,"v":650},
{"s":"Te6","m":1,"v":100},{"s":"Te6","m":2,"v":350},{"s":"Te6","m":3,"v":150},{"s":"Te6","m":4,"v":200},{"s":"Te6","m":5,"v":90},{"s":"Te6","m":6,"v":130},{"s":"Te6","m":7,"v":60},{"s":"Te6","m":8,"v":300},{"s":"Te6","m":9,"v":250},{"s":"Te6","m":10,"v":600},{"s":"Te6","m":11,"v":200},{"s":"Te6","m":12,"v":500},
{"s":"Te7","m":1,"v":550},{"s":"Te7","m":2,"v":200},{"s":"Te7","m":3,"v":400},{"s":"Te7","m":4,"v":130},{"s":"Te7","m":5,"v":140},{"s":"Te7","m":6,"v":70},{"s":"Te7","m":7,"v":150},{"s":"Te7","m":8,"v":120},{"s":"Te7","m":9,"v":600},{"s":"Te7","m":10,"v":450},{"s":"Te7","m":11,"v":400},{"s":"Te7","m":12,"v":350},
{"s":"Te8","m":1,"v":250},{"s":"Te8","m":2,"v":480},{"s":"Te8","m":3,"v":250},{"s":"Te8","m":4,"v":280},{"s":"Te8","m":5,"v":100},{"s":"Te8","m":6,"v":120},{"s":"Te8","m":7,"v":90},{"s":"Te8","m":8,"v":350},{"s":"Te8","m":9,"v":300},{"s":"Te8","m":10,"v":250},{"s":"Te8","m":11,"v":600},{"s":"Te8","m":12,"v":200},
{"s":"Te9","m":1,"v":380},{"s":"Te9","m":2,"v":100},{"s":"Te9","m":3,"v":200},{"s":"Te9","m":4,"v":180},{"s":"Te9","m":5,"v":200},{"s":"Te9","m":6,"v":150},{"s":"Te9","m":7,"v":140},{"s":"Te9","m":8,"v":220},{"s":"Te9","m":9,"v":450},{"s":"Te9","m":10,"v":350},{"s":"Te9","m":11,"v":150},{"s":"Te9","m":12,"v":550},
{"s":"Te10","m":1,"v":650},{"s":"Te10","m":2,"v":320},{"s":"Te10","m":3,"v":120},{"s":"Te10","m":4,"v":350},{"s":"Te10","m":5,"v":80},{"s":"Te10","m":6,"v":100},{"s":"Te10","m":7,"v":110},{"s":"Te10","m":8,"v":180},{"s":"Te10","m":9,"v":200},{"s":"Te10","m":10,"v":550},{"s":"Te10","m":11,"v":500},{"s":"Te10","m":12,"v":300},
{"s":"Te11","m":1,"v":180},{"s":"Te11","m":2,"v":260},{"s":"Te11","m":3,"v":350},{"s":"Te11","m":4,"v":120},{"s":"Te11","m":5,"v":250},{"s":"Te11","m":6,"v":80},{"s":"Te11","m":7,"v":170},{"s":"Te11","m":8,"v":450},{"s":"Te11","m":9,"v":550},{"s":"Te11","m":10,"v":300},{"s":"Te11","m":11,"v":300},{"s":"Te11","m":12,"v":700},
{"s":"Te12","m":1,"v":420},{"s":"Te12","m":2,"v":380},{"s":"Te12","m":3,"v":180},{"s":"Te12","m":4,"v":220},{"s":"Te12","m":5,"v":130},{"s":"Te12","m":6,"v":160},{"s":"Te12","m":7,"v":100},{"s":"Te12","m":8,"v":250},{"s":"Te12","m":9,"v":380},{"s":"Te12","m":10,"v":650},{"s":"Te12","m":11,"v":250},{"s":"Te12","m":12,"v":450},
{"s":"Te13","m":1,"v":300},{"s":"Te13","m":2,"v":200},{"s":"Te13","m":3,"v":280},{"s":"Te13","m":4,"v":160},{"s":"Te13","m":5,"v":110},{"s":"Te13","m":6,"v":90},{"s":"Te13","m":7,"v":130},{"s":"Te13","m":8,"v":160},{"s":"Te13","m":9,"v":480},{"s":"Te13","m":10,"v":400},{"s":"Te13","m":11,"v":580},{"s":"Te13","m":12,"v":150},
{"s":"Te14","m":1,"v":500},{"s":"Te14","m":2,"v":300},{"s":"Te14","m":3,"v":220},{"s":"Te14","m":4,"v":100},{"s":"Te14","m":5,"v":160},{"s":"Te14","m":6,"v":120},{"s":"Te14","m":7,"v":80},{"s":"Te14","m":8,"v":300},{"s":"Te14","m":9,"v":320},{"s":"Te14","m":10,"v":280},{"s":"Te14","m":11,"v":350},{"s":"Te14","m":12,"v":400},
{"s":"Tu","m":1,"v":649},{"s":"Tu","m":2,"v":549},{"s":"Tu","m":3,"v":449},{"s":"Tu","m":4,"v":342},{"s":"Tu","m":5,"v":288},{"s":"Tu","m":6,"v":188},{"s":"Tu","m":7,"v":180},{"s":"Tu","m":8,"v":465},{"s":"Tu","m":9,"v":626},{"s":"Tu","m":10,"v":665},{"s":"Tu","m":11,"v":580},{"s":"Tu","m":12,"v":703},
{"s":"Tl","m":1,"v":42},{"s":"Tl","m":2,"v":0},{"s":"Tl","m":3,"v":0},{"s":"Tl","m":4,"v":11},{"s":"Tl","m":5,"v":-8},{"s":"Tl","m":6,"v":2},{"s":"Tl","m":7,"v":34},{"s":"Tl","m":8,"v":-38},{"s":"Tl","m":9,"v":72},{"s":"Tl","m":10,"v":111},{"s":"Tl","m":11,"v":38},{"s":"Tl","m":12,"v":49},
{"s":"Tm","m":1,"v":345},{"s":"Tm","m":2,"v":275},{"s":"Tm","m":3,"v":226},{"s":"Tm","m":4,"v":172},{"s":"Tm","m":5,"v":134},{"s":"Tm","m":6,"v":111},{"s":"Tm","m":7,"v":111},{"s":"Tm","m":8,"v":203},{"s":"Tm","m":9,"v":349},{"s":"Tm","m":10,"v":372},{"s":"Tm","m":11,"v":318},{"s":"Tm","m":12,"v":372},
{"s":"To1","m":1,"v":550},{"s":"To1","m":2,"v":340},{"s":"To1","m":3,"v":140},{"s":"To1","m":4,"v":240},{"s":"To1","m":5,"v":150},{"s":"To1","m":6,"v":95},{"s":"To1","m":7,"v":30},{"s":"To1","m":8,"v":60},{"s":"To1","m":9,"v":575},{"s":"To1","m":10,"v":615},{"s":"To1","m":11,"v":510},{"s":"To1","m":12,"v":360},
{"s":"To2","m":1,"v":280},{"s":"To2","m":2,"v":280},{"s":"To2","m":3,"v":270},{"s":"To2","m":4,"v":90},{"s":"To2","m":5,"v":180},{"s":"To2","m":6,"v":140},{"s":"To2","m":7,"v":120},{"s":"To2","m":8,"v":260},{"s":"To2","m":9,"v":530},{"s":"To2","m":10,"v":390},{"s":"To2","m":11,"v":270},{"s":"To2","m":12,"v":580},
{"s":"To3","m":1,"v":240},{"s":"To3","m":2,"v":395},{"s":"To3","m":3,"v":360},{"s":"To3","m":4,"v":230},{"s":"To3","m":5,"v":140},{"s":"To3","m":6,"v":275},{"s":"To3","m":7,"v":20},{"s":"To3","m":8,"v":45},{"s":"To3","m":9,"v":340},{"s":"To3","m":10,"v":460},{"s":"To3","m":11,"v":280},{"s":"To3","m":12,"v":600},
{"s":"To4","m":1,"v":220},{"s":"To4","m":2,"v":10},{"s":"To4","m":3,"v":80},{"s":"To4","m":4,"v":65},{"s":"To4","m":5,"v":55},{"s":"To4","m":6,"v":90},{"s":"To4","m":7,"v":100},{"s":"To4","m":8,"v":220},{"s":"To4","m":9,"v":280},{"s":"To4","m":10,"v":380},{"s":"To4","m":11,"v":130},{"s":"To4","m":12,"v":210},
{"s":"Ae1","m":1,"v":450},{"s":"Ae1","m":2,"v":200},{"s":"Ae1","m":3,"v":250},{"s":"Ae1","m":4,"v":150},{"s":"Ae1","m":5,"v":120},{"s":"Ae1","m":6,"v":100},{"s":"Ae1","m":7,"v":170},{"s":"Ae1","m":8,"v":250},{"s":"Ae1","m":9,"v":450},{"s":"Ae1","m":10,"v":687},{"s":"Ae1","m":11,"v":300},{"s":"Ae1","m":12,"v":250},
{"s":"Ae2","m":1,"v":200},{"s":"Ae2","m":2,"v":480},{"s":"Ae2","m":3,"v":150},{"s":"Ae2","m":4,"v":200},{"s":"Ae2","m":5,"v":200},{"s":"Ae2","m":6,"v":150},{"s":"Ae2","m":7,"v":130},{"s":"Ae2","m":8,"v":200},{"s":"Ae2","m":9,"v":350},{"s":"Ae2","m":10,"v":300},{"s":"Ae2","m":11,"v":500},{"s":"Ae2","m":12,"v":400},
{"s":"Ae3","m":1,"v":300},{"s":"Ae3","m":2,"v":150},{"s":"Ae3","m":3,"v":300},{"s":"Ae3","m":4,"v":100},{"s":"Ae3","m":5,"v":150},{"s":"Ae3","m":6,"v":200},{"s":"Ae3","m":7,"v":300},{"s":"Ae3","m":8,"v":380},{"s":"Ae3","m":9,"v":250},{"s":"Ae3","m":10,"v":400},{"s":"Ae3","m":11,"v":200},{"s":"Ae3","m":12,"v":600},
{"s":"Ae4","m":1,"v":150},{"s":"Ae4","m":2,"v":300},{"s":"Ae4","m":3,"v":100},{"s":"Ae4","m":4,"v":250},{"s":"Ae4","m":5,"v":100},{"s":"Ae4","m":6,"v":170},{"s":"Ae4","m":7,"v":120},{"s":"Ae4","m":8,"v":150},{"s":"Ae4","m":9,"v":500},{"s":"Ae4","m":10,"v":250},{"s":"Ae4","m":11,"v":350},{"s":"Ae4","m":12,"v":300},
{"s":"Ae5","m":1,"v":350},{"s":"Ae5","m":2,"v":100},{"s":"Ae5","m":3,"v":200},{"s":"Ae5","m":4,"v":180},{"s":"Ae5","m":5,"v":250},{"s":"Ae5","m":6,"v":120},{"s":"Ae5","m":7,"v":200},{"s":"Ae5","m":8,"v":300},{"s":"Ae5","m":9,"v":300},{"s":"Ae5","m":10,"v":550},{"s":"Ae5","m":11,"v":150},{"s":"Ae5","m":12,"v":200},
{"s":"Ae6","m":1,"v":250},{"s":"Ae6","m":2,"v":250},{"s":"Ae6","m":3,"v":350},{"s":"Ae6","m":4,"v":120},{"s":"Ae6","m":5,"v":130},{"s":"Ae6","m":6,"v":250},{"s":"Ae6","m":7,"v":150},{"s":"Ae6","m":8,"v":400},{"s":"Ae6","m":9,"v":400},{"s":"Ae6","m":10,"v":200},{"s":"Ae6","m":11,"v":400},{"s":"Ae6","m":12,"v":500},
{"s":"Ae7","m":1,"v":100},{"s":"Ae7","m":2,"v":180},{"s":"Ae7","m":3,"v":150},{"s":"Ae7","m":4,"v":300},{"s":"Ae7","m":5,"v":160},{"s":"Ae7","m":6,"v":140},{"s":"Ae7","m":7,"v":110},{"s":"Ae7","m":8,"v":180},{"s":"Ae7","m":9,"v":200},{"s":"Ae7","m":10,"v":450},{"s":"Ae7","m":11,"v":250},{"s":"Ae7","m":12,"v":150},
{"s":"Ae8","m":1,"v":400},{"s":"Ae8","m":2,"v":350},{"s":"Ae8","m":3,"v":220},{"s":"Ae8","m":4,"v":140},{"s":"Ae8","m":5,"v":90},{"s":"Ae8","m":6,"v":180},{"s":"Ae8","m":7,"v":250},{"s":"Ae8","m":8,"v":250},{"s":"Ae8","m":9,"v":550},{"s":"Ae8","m":10,"v":350},{"s":"Ae8","m":11,"v":300},{"s":"Ae8","m":12,"v":350},
{"s":"Ae9","m":1,"v":220},{"s":"Ae9","m":2,"v":120},{"s":"Ae9","m":3,"v":180},{"s":"Ae9","m":4,"v":200},{"s":"Ae9","m":5,"v":220},{"s":"Ae9","m":6,"v":110},{"s":"Ae9","m":7,"v":180},{"s":"Ae9","m":8,"v":130},{"s":"Ae9","m":9,"v":280},{"s":"Ae9","m":10,"v":600},{"s":"Ae9","m":11,"v":200},{"s":"Ae9","m":12,"v":280},
{"s":"Ae10","m":1,"v":300},{"s":"Ae10","m":2,"v":280},{"s":"Ae10","m":3,"v":120},{"s":"Ae10","m":4,"v":100},{"s":"Ae10","m":5,"v":180},{"s":"Ae10","m":6,"v":200},{"s":"Ae10","m":7,"v":140},{"s":"Ae10","m":8,"v":350},{"s":"Ae10","m":9,"v":350},{"s":"Ae10","m":10,"v":300},{"s":"Ae10","m":11,"v":450},{"s":"Ae10","m":12,"v":220},
{"s":"Ae11","m":1,"v":180},{"s":"Ae11","m":2,"v":220},{"s":"Ae11","m":3,"v":270},{"s":"Ae11","m":4,"v":220},{"s":"Ae11","m":5,"v":80},{"s":"Ae11","m":6,"v":130},{"s":"Ae11","m":7,"v":220},{"s":"Ae11","m":8,"v":200},{"s":"Ae11","m":9,"v":430},{"s":"Ae11","m":10,"v":480},{"s":"Ae11","m":11,"v":120},{"s":"Ae11","m":12,"v":420},
{"s":"Ae12","m":1,"v":280},{"s":"Ae12","m":2,"v":400},{"s":"Ae12","m":3,"v":200},{"s":"Ae12","m":4,"v":170},{"s":"Ae12","m":5,"v":150},{"s":"Ae12","m":6,"v":160},{"s":"Ae12","m":7,"v":120},{"s":"Ae12","m":8,"v":280},{"s":"Ae12","m":9,"v":330},{"s":"Ae12","m":10,"v":250},{"s":"Ae12","m":11,"v":280},{"s":"Ae12","m":12,"v":350},
{"s":"Ae13","m":1,"v":120},{"s":"Ae13","m":2,"v":160},{"s":"Ae13","m":3,"v":100},{"s":"Ae13","m":4,"v":130},{"s":"Ae13","m":5,"v":200},{"s":"Ae13","m":6,"v":90},{"s":"Ae13","m":7,"v":160},{"s":"Ae13","m":8,"v":220},{"s":"Ae13","m":9,"v":380},{"s":"Ae13","m":10,"v":420},{"s":"Ae13","m":11,"v":350},{"s":"Ae13","m":12,"v":180},
{"s":"Ae14","m":1,"v":380},{"s":"Ae14","m":2,"v":270},{"s":"Ae14","m":3,"v":300},{"s":"Ae14","m":4,"v":250},{"s":"Ae14","m":5,"v":140},{"s":"Ae14","m":6,"v":220},{"s":"Ae14","m":7,"v":190},{"s":"Ae14","m":8,"v":320},{"s":"Ae14","m":9,"v":260},{"s":"Ae14","m":10,"v":380},{"s":"Ae14","m":11,"v":220},{"s":"Ae14","m":12,"v":500},
{"s":"Au","m":1,"v":436},{"s":"Au","m":2,"v":432},{"s":"Au","m":3,"v":347},{"s":"Au","m":4,"v":268},{"s":"Au","m":5,"v":242},{"s":"Au","m":6,"v":248},{"s":"Au","m":7,"v":297},{"s":"Au","m":8,"v":428},{"s":"Au","m":9,"v":524},{"s":"Au","m":10,"v":583},{"s":"Au","m":11,"v":462},{"s":"Au","m":12,"v":530},
{"s":"Al","m":1,"v":84},{"s":"Al","m":2,"v":1},{"s":"Al","m":3,"v":35},{"s":"Al","m":4,"v":32},{"s":"Al","m":5,"v":34},{"s":"Al","m":6,"v":60},{"s":"Al","m":7,"v":60},{"s":"Al","m":8,"v":50},{"s":"Al","m":9,"v":133},{"s":"Al","m":10,"v":108},{"s":"Al","m":11,"v":60},{"s":"Al","m":12,"v":47},
{"s":"Am","m":1,"v":261},{"s":"Am","m":2,"v":219},{"s":"Am","m":3,"v":186},{"s":"Am","m":4,"v":156},{"s":"Am","m":5,"v":140},{"s":"Am","m":6,"v":147},{"s":"Am","m":7,"v":165},{"s":"Am","m":8,"v":228},{"s":"Am","m":9,"v":324},{"s":"Am","m":10,"v":344},{"s":"Am","m":11,"v":264},{"s":"Am","m":12,"v":291},
{"s":"Ao1","m":1,"v":365},{"s":"Ao1","m":2,"v":65},{"s":"Ao1","m":3,"v":225},{"s":"Ao1","m":4,"v":140},{"s":"Ao1","m":5,"v":190},{"s":"Ao1","m":6,"v":65},{"s":"Ao1","m":7,"v":280},{"s":"Ao1","m":8,"v":165},{"s":"Ao1","m":9,"v":385},{"s":"Ao1","m":10,"v":355},{"s":"Ao1","m":11,"v":80},{"s":"Ao1","m":12,"v":440},
{"s":"Ao2","m":1,"v":235},{"s":"Ao2","m":2,"v":225},{"s":"Ao2","m":3,"v":200},{"s":"Ao2","m":4,"v":200},{"s":"Ao2","m":5,"v":185},{"s":"Ao2","m":6,"v":160},{"s":"Ao2","m":7,"v":120},{"s":"Ao2","m":8,"v":280},{"s":"Ao2","m":9,"v":380},{"s":"Ao2","m":10,"v":510},{"s":"Ao2","m":11,"v":340},{"s":"Ao2","m":12,"v":210},
{"s":"Ao3","m":1,"v":185},{"s":"Ao3","m":2,"v":195},{"s":"Ao3","m":3,"v":80},{"s":"Ao3","m":4,"v":190},{"s":"Ao3","m":5,"v":165},{"s":"Ao3","m":6,"v":150},{"s":"Ao3","m":7,"v":210},{"s":"Ao3","m":8,"v":110},{"s":"Ao3","m":9,"v":410},{"s":"Ao3","m":10,"v":265},{"s":"Ao3","m":11,"v":230},{"s":"Ao3","m":12,"v":150},
{"s":"Ge1","m":1,"v":450},{"s":"Ge1","m":2,"v":470},{"s":"Ge1","m":3,"v":200},{"s":"Ge1","m":4,"v":150},{"s":"Ge1","m":5,"v":130},{"s":"Ge1","m":6,"v":110},{"s":"Ge1","m":7,"v":200},{"s":"Ge1","m":8,"v":300},{"s":"Ge1","m":9,"v":500},{"s":"Ge1","m":10,"v":714},{"s":"Ge1","m":11,"v":350},{"s":"Ge1","m":12,"v":300},
{"s":"Ge2","m":1,"v":200},{"s":"Ge2","m":2,"v":300},{"s":"Ge2","m":3,"v":350},{"s":"Ge2","m":4,"v":200},{"s":"Ge2","m":5,"v":100},{"s":"Ge2","m":6,"v":200},{"s":"Ge2","m":7,"v":150},{"s":"Ge2","m":8,"v":250},{"s":"Ge2","m":9,"v":300},{"s":"Ge2","m":10,"v":400},{"s":"Ge2","m":11,"v":550},{"s":"Ge2","m":12,"v":500},
{"s":"Ge3","m":1,"v":300},{"s":"Ge3","m":2,"v":150},{"s":"Ge3","m":3,"v":250},{"s":"Ge3","m":4,"v":300},{"s":"Ge3","m":5,"v":200},{"s":"Ge3","m":6,"v":140},{"s":"Ge3","m":7,"v":300},{"s":"Ge3","m":8,"v":450},{"s":"Ge3","m":9,"v":400},{"s":"Ge3","m":10,"v":300},{"s":"Ge3","m":11,"v":250},{"s":"Ge3","m":12,"v":600},
{"s":"Ge4","m":1,"v":150},{"s":"Ge4","m":2,"v":250},{"s":"Ge4","m":3,"v":100},{"s":"Ge4","m":4,"v":100},{"s":"Ge4","m":5,"v":270},{"s":"Ge4","m":6,"v":160},{"s":"Ge4","m":7,"v":120},{"s":"Ge4","m":8,"v":200},{"s":"Ge4","m":9,"v":600},{"s":"Ge4","m":10,"v":350},{"s":"Ge4","m":11,"v":300},{"s":"Ge4","m":12,"v":200},
{"s":"Ge5","m":1,"v":350},{"s":"Ge5","m":2,"v":100},{"s":"Ge5","m":3,"v":300},{"s":"Ge5","m":4,"v":180},{"s":"Ge5","m":5,"v":150},{"s":"Ge5","m":6,"v":250},{"s":"Ge5","m":7,"v":200},{"s":"Ge5","m":8,"v":350},{"s":"Ge5","m":9,"v":300},{"s":"Ge5","m":10,"v":650},{"s":"Ge5","m":11,"v":200},{"s":"Ge5","m":12,"v":350},
{"s":"Ge6","m":1,"v":250},{"s":"Ge6","m":2,"v":400},{"s":"Ge6","m":3,"v":150},{"s":"Ge6","m":4,"v":250},{"s":"Ge6","m":5,"v":120},{"s":"Ge6","m":6,"v":130},{"s":"Ge6","m":7,"v":250},{"s":"Ge6","m":8,"v":220},{"s":"Ge6","m":9,"v":450},{"s":"Ge6","m":10,"v":250},{"s":"Ge6","m":11,"v":400},{"s":"Ge6","m":12,"v":250},
{"s":"Ge7","m":1,"v":120},{"s":"Ge7","m":2,"v":200},{"s":"Ge7","m":3,"v":220},{"s":"Ge7","m":4,"v":120},{"s":"Ge7","m":5,"v":180},{"s":"Ge7","m":6,"v":180},{"s":"Ge7","m":7,"v":140},{"s":"Ge7","m":8,"v":300},{"s":"Ge7","m":9,"v":250},{"s":"Ge7","m":10,"v":500},{"s":"Ge7","m":11,"v":300},{"s":"Ge7","m":12,"v":400},
{"s":"Ge8","m":1,"v":400},{"s":"Ge8","m":2,"v":180},{"s":"Ge8","m":3,"v":270},{"s":"Ge8","m":4,"v":140},{"s":"Ge8","m":5,"v":90},{"s":"Ge8","m":6,"v":120},{"s":"Ge8","m":7,"v":220},{"s":"Ge8","m":8,"v":180},{"s":"Ge8","m":9,"v":550},{"s":"Ge8","m":10,"v":450},{"s":"Ge8","m":11,"v":250},{"s":"Ge8","m":12,"v":150},
{"s":"Ge9","m":1,"v":220},{"s":"Ge9","m":2,"v":350},{"s":"Ge9","m":3,"v":180},{"s":"Ge9","m":4,"v":220},{"s":"Ge9","m":5,"v":150},{"s":"Ge9","m":6,"v":160},{"s":"Ge9","m":7,"v":160},{"s":"Ge9","m":8,"v":400},{"s":"Ge9","m":9,"v":350},{"s":"Ge9","m":10,"v":300},{"s":"Ge9","m":11,"v":450},{"s":"Ge9","m":12,"v":550},
{"s":"Ge10","m":1,"v":300},{"s":"Ge10","m":2,"v":230},{"s":"Ge10","m":3,"v":120},{"s":"Ge10","m":4,"v":160},{"s":"Ge10","m":5,"v":230},{"s":"Ge10","m":6,"v":100},{"s":"Ge10","m":7,"v":280},{"s":"Ge10","m":8,"v":250},{"s":"Ge10","m":9,"v":280},{"s":"Ge10","m":10,"v":550},{"s":"Ge10","m":11,"v":200},{"s":"Ge10","m":12,"v":280},
{"s":"Ge11","m":1,"v":180},{"s":"Ge11","m":2,"v":120},{"s":"Ge11","m":3,"v":300},{"s":"Ge11","m":4,"v":100},{"s":"Ge11","m":5,"v":160},{"s":"Ge11","m":6,"v":200},{"s":"Ge11","m":7,"v":130},{"s":"Ge11","m":8,"v":320},{"s":"Ge11","m":9,"v":450},{"s":"Ge11","m":10,"v":350},{"s":"Ge11","m":11,"v":350},{"s":"Ge11","m":12,"v":450},
{"s":"Ge12","m":1,"v":280},{"s":"Ge12","m":2,"v":280},{"s":"Ge12","m":3,"v":200},{"s":"Ge12","m":4,"v":200},{"s":"Ge12","m":5,"v":120},{"s":"Ge12","m":6,"v":150},{"s":"Ge12","m":7,"v":180},{"s":"Ge12","m":8,"v":280},{"s":"Ge12","m":9,"v":380},{"s":"Ge12","m":10,"v":400},{"s":"Ge12","m":11,"v":300},{"s":"Ge12","m":12,"v":300},
{"s":"Ge13","m":1,"v":350},{"s":"Ge13","m":2,"v":200},{"s":"Ge13","m":3,"v":160},{"s":"Ge13","m":4,"v":270},{"s":"Ge13","m":5,"v":180},{"s":"Ge13","m":6,"v":120},{"s":"Ge13","m":7,"v":240},{"s":"Ge13","m":8,"v":150},{"s":"Ge13","m":9,"v":420},{"s":"Ge13","m":10,"v":600},{"s":"Ge13","m":11,"v":280},{"s":"Ge13","m":12,"v":200},
{"s":"Ge14","m":1,"v":240},{"s":"Ge14","m":2,"v":320},{"s":"Ge14","m":3,"v":240},{"s":"Ge14","m":4,"v":150},{"s":"Ge14","m":5,"v":140},{"s":"Ge14","m":6,"v":170},{"s":"Ge14","m":7,"v":170},{"s":"Ge14","m":8,"v":380},{"s":"Ge14","m":9,"v":320},{"s":"Ge14","m":10,"v":280},{"s":"Ge14","m":11,"v":380},{"s":"Ge14","m":12,"v":650},
{"s":"Gu","m":1,"v":460},{"s":"Gu","m":2,"v":444},{"s":"Gu","m":3,"v":380},{"s":"Gu","m":4,"v":288},{"s":"Gu","m":5,"v":247},{"s":"Gu","m":6,"v":247},{"s":"Gu","m":7,"v":308},{"s":"Gu","m":8,"v":457},{"s":"Gu","m":9,"v":566},{"s":"Gu","m":10,"v":620},{"s":"Gu","m":11,"v":514},{"s":"Gu","m":12,"v":573},
{"s":"Gl","m":1,"v":105},{"s":"Gl","m":2,"v":14},{"s":"Gl","m":3,"v":43},{"s":"Gl","m":4,"v":39},{"s":"Gl","m":5,"v":39},{"s":"Gl","m":6,"v":64},{"s":"Gl","m":7,"v":71},{"s":"Gl","m":8,"v":57},{"s":"Gl","m":9,"v":132},{"s":"Gl","m":10,"v":121},{"s":"Gl","m":11,"v":77},{"s":"Gl","m":12,"v":57},
{"s":"Gm","m":1,"v":284},{"s":"Gm","m":2,"v":227},{"s":"Gm","m":3,"v":210},{"s":"Gm","m":4,"v":159},{"s":"Gm","m":5,"v":145},{"s":"Gm","m":6,"v":155},{"s":"Gm","m":7,"v":186},{"s":"Gm","m":8,"v":267},{"s":"Gm","m":9,"v":349},{"s":"Gm","m":10,"v":372},{"s":"Gm","m":11,"v":299},{"s":"Gm","m":12,"v":315},
{"s":"Go1","m":1,"v":445},{"s":"Go1","m":2,"v":160},{"s":"Go1","m":3,"v":290},{"s":"Go1","m":4,"v":140},{"s":"Go1","m":5,"v":160},{"s":"Go1","m":6,"v":95},{"s":"Go1","m":7,"v":285},{"s":"Go1","m":8,"v":160},{"s":"Go1","m":9,"v":460},{"s":"Go1","m":10,"v":310},{"s":"Go1","m":11,"v":300},{"s":"Go1","m":12,"v":225},
{"s":"Go2","m":1,"v":400},{"s":"Go2","m":2,"v":85},{"s":"Go2","m":3,"v":215},{"s":"Go2","m":4,"v":90},{"s":"Go2","m":5,"v":110},{"s":"Go2","m":6,"v":115},{"s":"Go2","m":7,"v":100},{"s":"Go2","m":8,"v":420},{"s":"Go2","m":9,"v":350},{"s":"Go2","m":10,"v":555},{"s":"Go2","m":11,"v":380},{"s":"Go2","m":12,"v":230},
{"s":"Go3","m":1,"v":260},{"s":"Go3","m":2,"v":235},{"s":"Go3","m":3,"v":220},{"s":"Go3","m":4,"v":205},{"s":"Go3","m":5,"v":150},{"s":"Go3","m":6,"v":160},{"s":"Go3","m":7,"v":245},{"s":"Go3","m":8,"v":170},{"s":"Go3","m":9,"v":410},{"s":"Go3","m":10,"v":300},{"s":"Go3","m":11,"v":245},{"s":"Go3","m":12,"v":180}
]},
"columns":3,
"spacing":{"row":37,"column":51},
"bounds":"flush",
"concat":[
{"title":{"text":"Ellsworth","offset":4,"fontSize":15,"fontWeight":"normal","color":"#000"},"width":247,"height":190,
"transform":[{"lookup":"s","from":{"data":{"name":"series"},"key":"s","fields":["p","k"]}},{"filter":"datum.p=='Ellsworth'"}],
"encoding":{"x":{"field":"m","type":"quantitative","scale":{"domain":[0.45,12.55],"nice":false},"axis":null},
"y":{"field":"v","type":"quantitative","scale":{"domain":[-87,966],"nice":false,"zero":false},"axis":{"values":[0,200,400,600,800],"format":"d","title":null}},
"detail":{"field":"s"}},
"layer":[
{"transform":[{"filter":"datum.k=='ens'"}],"mark":{"type":"line","strokeWidth":1.2,"color":"#a6cde5","opacity":0.8}},
{"transform":[{"filter":"datum.k=='bnd'"}],"mark":{"type":"line","strokeWidth":1.5,"color":"#7f7f7f","strokeDash":[5,1.5]}},
{"transform":[{"filter":"datum.k=='mean'"}],"mark":{"type":"line","strokeWidth":2.5,"color":"#7f7f7f"}},
{"transform":[{"filter":"datum.k=='obs'"}],"mark":{"type":"line","strokeWidth":3,"color":"#0c3a78"}}]},
{"title":{"text":"Barry","offset":4,"fontSize":15,"fontWeight":"normal","color":"#000"},"width":247,"height":190,
"transform":[{"lookup":"s","from":{"data":{"name":"series"},"key":"s","fields":["p","k"]}},{"filter":"datum.p=='Barry'"}],
"encoding":{"x":{"field":"m","type":"quantitative","scale":{"domain":[0.45,12.55],"nice":false},"axis":null},
"y":{"field":"v","type":"quantitative","scale":{"domain":[-75,922],"nice":false,"zero":false},"axis":{"values":[0,200,400,600,800],"format":"d","title":null}},
"detail":{"field":"s"}},
"layer":[
{"transform":[{"filter":"datum.k=='ens'"}],"mark":{"type":"line","strokeWidth":1.2,"color":"#a6cde5","opacity":0.8}},
{"transform":[{"filter":"datum.k=='bnd'"}],"mark":{"type":"line","strokeWidth":1.5,"color":"#7f7f7f","strokeDash":[5,1.5]}},
{"transform":[{"filter":"datum.k=='mean'"}],"mark":{"type":"line","strokeWidth":2.5,"color":"#7f7f7f"}},
{"transform":[{"filter":"datum.k=='obs'"}],"mark":{"type":"line","strokeWidth":3,"color":"#0c3a78"}}]},
{"title":{"text":"Yale","offset":4,"fontSize":15,"fontWeight":"normal","color":"#000"},"width":247,"height":190,
"transform":[{"lookup":"s","from":{"data":{"name":"series"},"key":"s","fields":["p","k"]}},{"filter":"datum.p=='Yale'"}],
"encoding":{"x":{"field":"m","type":"quantitative","scale":{"domain":[0.45,12.55],"nice":false},"axis":null},
"y":{"field":"v","type":"quantitative","scale":{"domain":[-87,1212],"nice":false,"zero":false},"axis":{"values":[0,250,500,750,1000],"format":"d","title":null}},
"detail":{"field":"s"}},
"layer":[
{"transform":[{"filter":"datum.k=='ens'"}],"mark":{"type":"line","strokeWidth":1.2,"color":"#a6cde5","opacity":0.8}},
{"transform":[{"filter":"datum.k=='bnd'"}],"mark":{"type":"line","strokeWidth":1.5,"color":"#7f7f7f","strokeDash":[5,1.5]}},
{"transform":[{"filter":"datum.k=='mean'"}],"mark":{"type":"line","strokeWidth":2.5,"color":"#7f7f7f"}},
{"transform":[{"filter":"datum.k=='obs'"}],"mark":{"type":"line","strokeWidth":3,"color":"#0c3a78"}}]},
{"title":{"text":"Tyndall","offset":4,"fontSize":15,"fontWeight":"normal","color":"#000"},"width":247,"height":190,
"transform":[{"lookup":"s","from":{"data":{"name":"series"},"key":"s","fields":["p","k"]}},{"filter":"datum.p=='Tyndall'"}],
"encoding":{"x":{"field":"m","type":"quantitative","scale":{"domain":[0.45,12.55],"nice":false},"axis":{"values":[1,2,3,4,5,6,7,8,9,10,11,12],"labelExpr":"['J','F','M','A','M','J','J','A','S','O','N','D'][datum.value-1]","title":null}},
"y":{"field":"v","type":"quantitative","scale":{"domain":[-78,803],"nice":false,"zero":false},"axis":{"values":[0,200,400,600],"format":"d","title":null}},
"detail":{"field":"s"}},
"layer":[
{"transform":[{"filter":"datum.k=='ens'"}],"mark":{"type":"line","strokeWidth":1.2,"color":"#a6cde5","opacity":0.8}},
{"transform":[{"filter":"datum.k=='bnd'"}],"mark":{"type":"line","strokeWidth":1.5,"color":"#7f7f7f","strokeDash":[5,1.5]}},
{"transform":[{"filter":"datum.k=='mean'"}],"mark":{"type":"line","strokeWidth":2.5,"color":"#7f7f7f"}},
{"transform":[{"filter":"datum.k=='obs'"}],"mark":{"type":"line","strokeWidth":3,"color":"#0c3a78"}}]},
{"title":{"text":"Alsek","offset":4,"fontSize":15,"fontWeight":"normal","color":"#000"},"width":247,"height":190,
"transform":[{"lookup":"s","from":{"data":{"name":"series"},"key":"s","fields":["p","k"]}},{"filter":"datum.p=='Alsek'"}],
"encoding":{"x":{"field":"m","type":"quantitative","scale":{"domain":[0.45,12.55],"nice":false},"axis":{"values":[1,2,3,4,5,6,7,8,9,10,11,12],"labelExpr":"['J','F','M','A','M','J','J','A','S','O','N','D'][datum.value-1]","title":null}},
"y":{"field":"v","type":"quantitative","scale":{"domain":[-31.5,721],"nice":false,"zero":false},"axis":{"values":[0,200,400,600],"format":"d","title":null}},
"detail":{"field":"s"}},
"layer":[
{"transform":[{"filter":"datum.k=='ens'"}],"mark":{"type":"line","strokeWidth":1.2,"color":"#a6cde5","opacity":0.8}},
{"transform":[{"filter":"datum.k=='bnd'"}],"mark":{"type":"line","strokeWidth":1.5,"color":"#7f7f7f","strokeDash":[5,1.5]}},
{"transform":[{"filter":"datum.k=='mean'"}],"mark":{"type":"line","strokeWidth":2.5,"color":"#7f7f7f"}},
{"transform":[{"filter":"datum.k=='obs'"}],"mark":{"type":"line","strokeWidth":3,"color":"#0c3a78"}}]},
{"title":{"text":"Grand Plateau","offset":4,"fontSize":15,"fontWeight":"normal","color":"#000"},"width":247,"height":190,
"transform":[{"lookup":"s","from":{"data":{"name":"series"},"key":"s","fields":["p","k"]}},{"filter":"datum.p=='Grand Plateau'"}],
"encoding":{"x":{"field":"m","type":"quantitative","scale":{"domain":[0.45,12.55],"nice":false},"axis":{"values":[1,2,3,4,5,6,7,8,9,10,11,12],"labelExpr":"['J','F','M','A','M','J','J','A','S','O','N','D'][datum.value-1]","title":null}},
"y":{"field":"v","type":"quantitative","scale":{"domain":[-28.5,749],"nice":false,"zero":false},"axis":{"values":[0,200,400,600],"format":"d","title":null}},
"detail":{"field":"s"}},
"layer":[
{"transform":[{"filter":"datum.k=='ens'"}],"mark":{"type":"line","strokeWidth":1.2,"color":"#a6cde5","opacity":0.8}},
{"transform":[{"filter":"datum.k=='bnd'"}],"mark":{"type":"line","strokeWidth":1.5,"color":"#7f7f7f","strokeDash":[5,1.5]}},
{"transform":[{"filter":"datum.k=='mean'"}],"mark":{"type":"line","strokeWidth":2.5,"color":"#7f7f7f"}},
{"transform":[{"filter":"datum.k=='obs'"}],"mark":{"type":"line","strokeWidth":3,"color":"#0c3a78"}}]}
]
}
